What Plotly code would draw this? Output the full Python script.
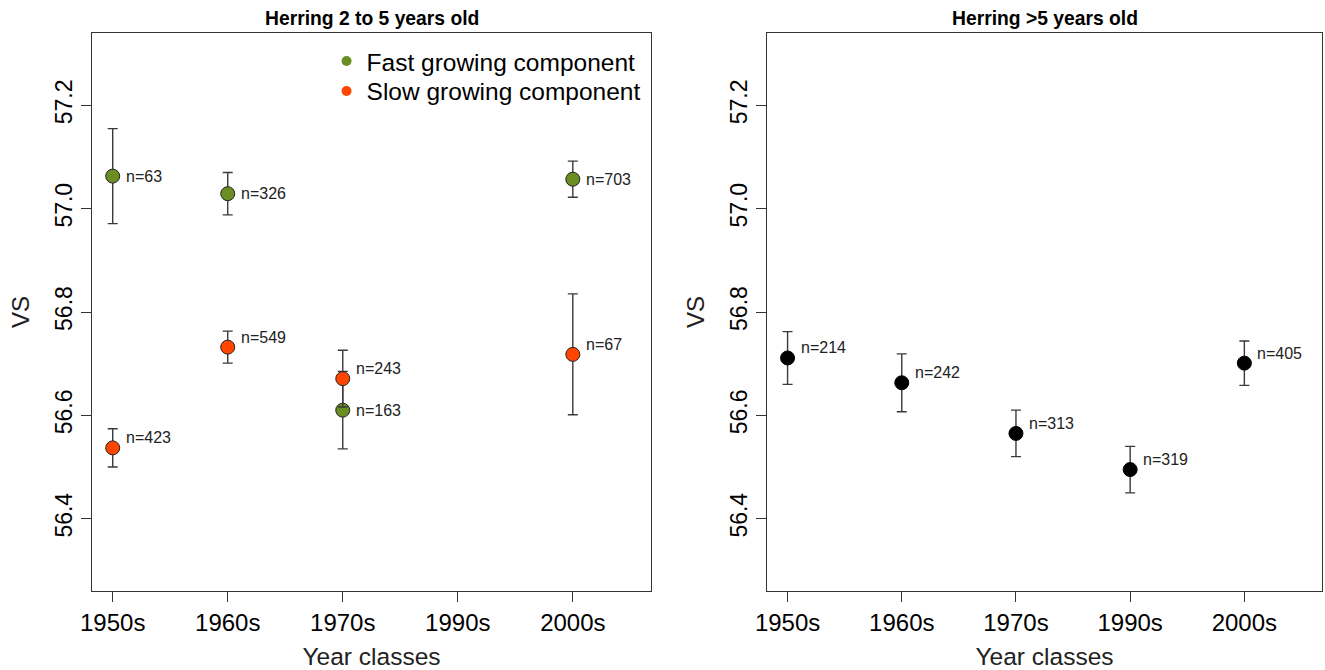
import plotly.graph_objects as go

# ---------------- data ----------------
categories = ["1950s", "1960s", "1970s", "1990s", "2000s"]
cat_pos = [1, 2, 3, 4, 5]

# Left panel: Herring 2 to 5 years old
fast_cats = ["1950s", "1960s", "1970s", "2000s"]
fast_vs = [57.063, 57.029, 56.610, 57.057]
fast_err = [0.092, 0.041, 0.075, 0.035]
fast_n = [63, 326, 163, 703]

slow_cats = ["1950s", "1960s", "1970s", "2000s"]
slow_vs = [56.537, 56.732, 56.671, 56.718]
slow_err = [0.037, 0.031, 0.055, 0.117]
slow_n = [423, 549, 243, 67]

# Right panel: Herring >5 years old
old_cats = ["1950s", "1960s", "1970s", "1990s", "2000s"]
old_vs = [56.711, 56.663, 56.565, 56.495, 56.701]
old_err = [0.051, 0.056, 0.045, 0.045, 0.043]
old_n = [214, 242, 313, 319, 405]

y_ticks = [56.4, 56.6, 56.8, 57.0, 57.2]
y_range = [56.26, 57.34]
x_range = [0.82, 5.68]

series_names = ["Fast growing component", "Slow growing component"]
titles = ["Herring 2 to 5 years old", "Herring >5 years old"]

# ---------------- styles ----------------
GREEN = "#6B8E23"
ORANGE = "#FF4500"
ERRC = "#3a3a3a"
AXC = "#333333"
FONT = "Liberation Sans, Arial, sans-serif"

pos = dict(zip(categories, cat_pos))


def xs(cats):
    return [pos[c] for c in cats]


fig = go.Figure()

err_style = dict(type="data", visible=True, color=ERRC, thickness=1.4, width=5)

fig.add_trace(go.Scatter(
    x=xs(fast_cats), y=fast_vs, mode="markers", showlegend=False,
    error_y=dict(array=fast_err, **err_style),
    marker=dict(color=GREEN, size=14, line=dict(color="#222222", width=1)),
    xaxis="x", yaxis="y"))
fig.add_trace(go.Scatter(
    x=xs(slow_cats), y=slow_vs, mode="markers", showlegend=False,
    error_y=dict(array=slow_err, **err_style),
    marker=dict(color=ORANGE, size=14, line=dict(color="#222222", width=1)),
    xaxis="x", yaxis="y"))
fig.add_trace(go.Scatter(
    x=xs(old_cats), y=old_vs, mode="markers", showlegend=False,
    error_y=dict(array=old_err, **err_style),
    marker=dict(color="black", size=14, line=dict(color="black", width=1)),
    xaxis="x2", yaxis="y2"))

# legend-only traces (each in its own legend box to control row spacing)
for name, col, lg in zip(series_names, [GREEN, ORANGE], ["legend", "legend2"]):
    fig.add_trace(go.Scatter(
        x=[None], y=[None], mode="markers", name=name, legend=lg,
        marker=dict(color=col, size=10), xaxis="x", yaxis="y"))

# n labels
annotations = []


def add_labels(cats, vals, ns, xref, yref, yshift):
    for c, v, n in zip(cats, vals, ns):
        annotations.append(dict(
            x=pos[c], y=v, xref=xref, yref=yref, text=f"n={n}",
            showarrow=False, xanchor="left", yanchor="middle",
            xshift=11, yshift=yshift,
            font=dict(family=FONT, size=16, color="#222222")))


add_labels(fast_cats, fast_vs, fast_n, "x", "y", 0)
add_labels(slow_cats, slow_vs, slow_n, "x", "y", 10)
add_labels(old_cats, old_vs, old_n, "x2", "y2", 10)

# panel titles
dom1 = [0.0, 0.4545]
dom2 = [0.5488, 1.0]
for t, d in zip(titles, [dom1, dom2]):
    annotations.append(dict(
        x=(d[0] + d[1]) / 2, y=1, xref="paper", yref="paper",
        text=f"<b>{t}</b>", showarrow=False, xanchor="center",
        yanchor="bottom", yshift=2,
        font=dict(family=FONT, size=19.3, color="black")))

xaxis_common = dict(
    range=x_range, tickmode="array", tickvals=cat_pos, ticktext=categories,
    showgrid=False, zeroline=False, showline=True, mirror=True,
    linecolor=AXC, linewidth=1.4, ticks="outside", ticklen=10,
    tickcolor=AXC, tickwidth=1.4,
    tickfont=dict(family=FONT, size=24, color="black"),
    title=dict(text="Year classes", standoff=15,
               font=dict(family=FONT, size=24.5, color="#222222")),
)
yaxis_common = dict(
    range=y_range, tickmode="array", tickvals=y_ticks,
    ticktext=[f"{v:.1f}" for v in y_ticks], tickangle=-90,
    showgrid=False, zeroline=False, showline=True, mirror=True,
    linecolor=AXC, linewidth=1.4, ticks="outside", ticklen=10,
    tickcolor=AXC, tickwidth=1.4,
    tickfont=dict(family=FONT, size=23, color="black"),
    title=dict(text="VS", standoff=14,
               font=dict(family=FONT, size=24, color="#222222")),
)

leg_common = dict(xanchor="left", yanchor="top", bgcolor="rgba(0,0,0,0)",
                  borderwidth=0, itemwidth=30,
                  font=dict(family=FONT, size=24.5, color="black"))

fig.update_layout(
    width=1325, height=670,
    margin=dict(l=92, r=3, t=33, b=79),
    paper_bgcolor="white", plot_bgcolor="white",
    xaxis=dict(domain=dom1, anchor="y", **xaxis_common),
    yaxis=dict(domain=[0, 1], anchor="x", **yaxis_common),
    xaxis2=dict(domain=dom2, anchor="y2", **xaxis_common),
    yaxis2=dict(domain=[0, 1], anchor="x2", **yaxis_common),
    annotations=annotations,
    showlegend=True,
    legend=dict(x=0.1907, y=0.990, **leg_common),
    legend2=dict(x=0.1907, y=0.9364, **leg_common),
)

fig.write_html("out.html")
